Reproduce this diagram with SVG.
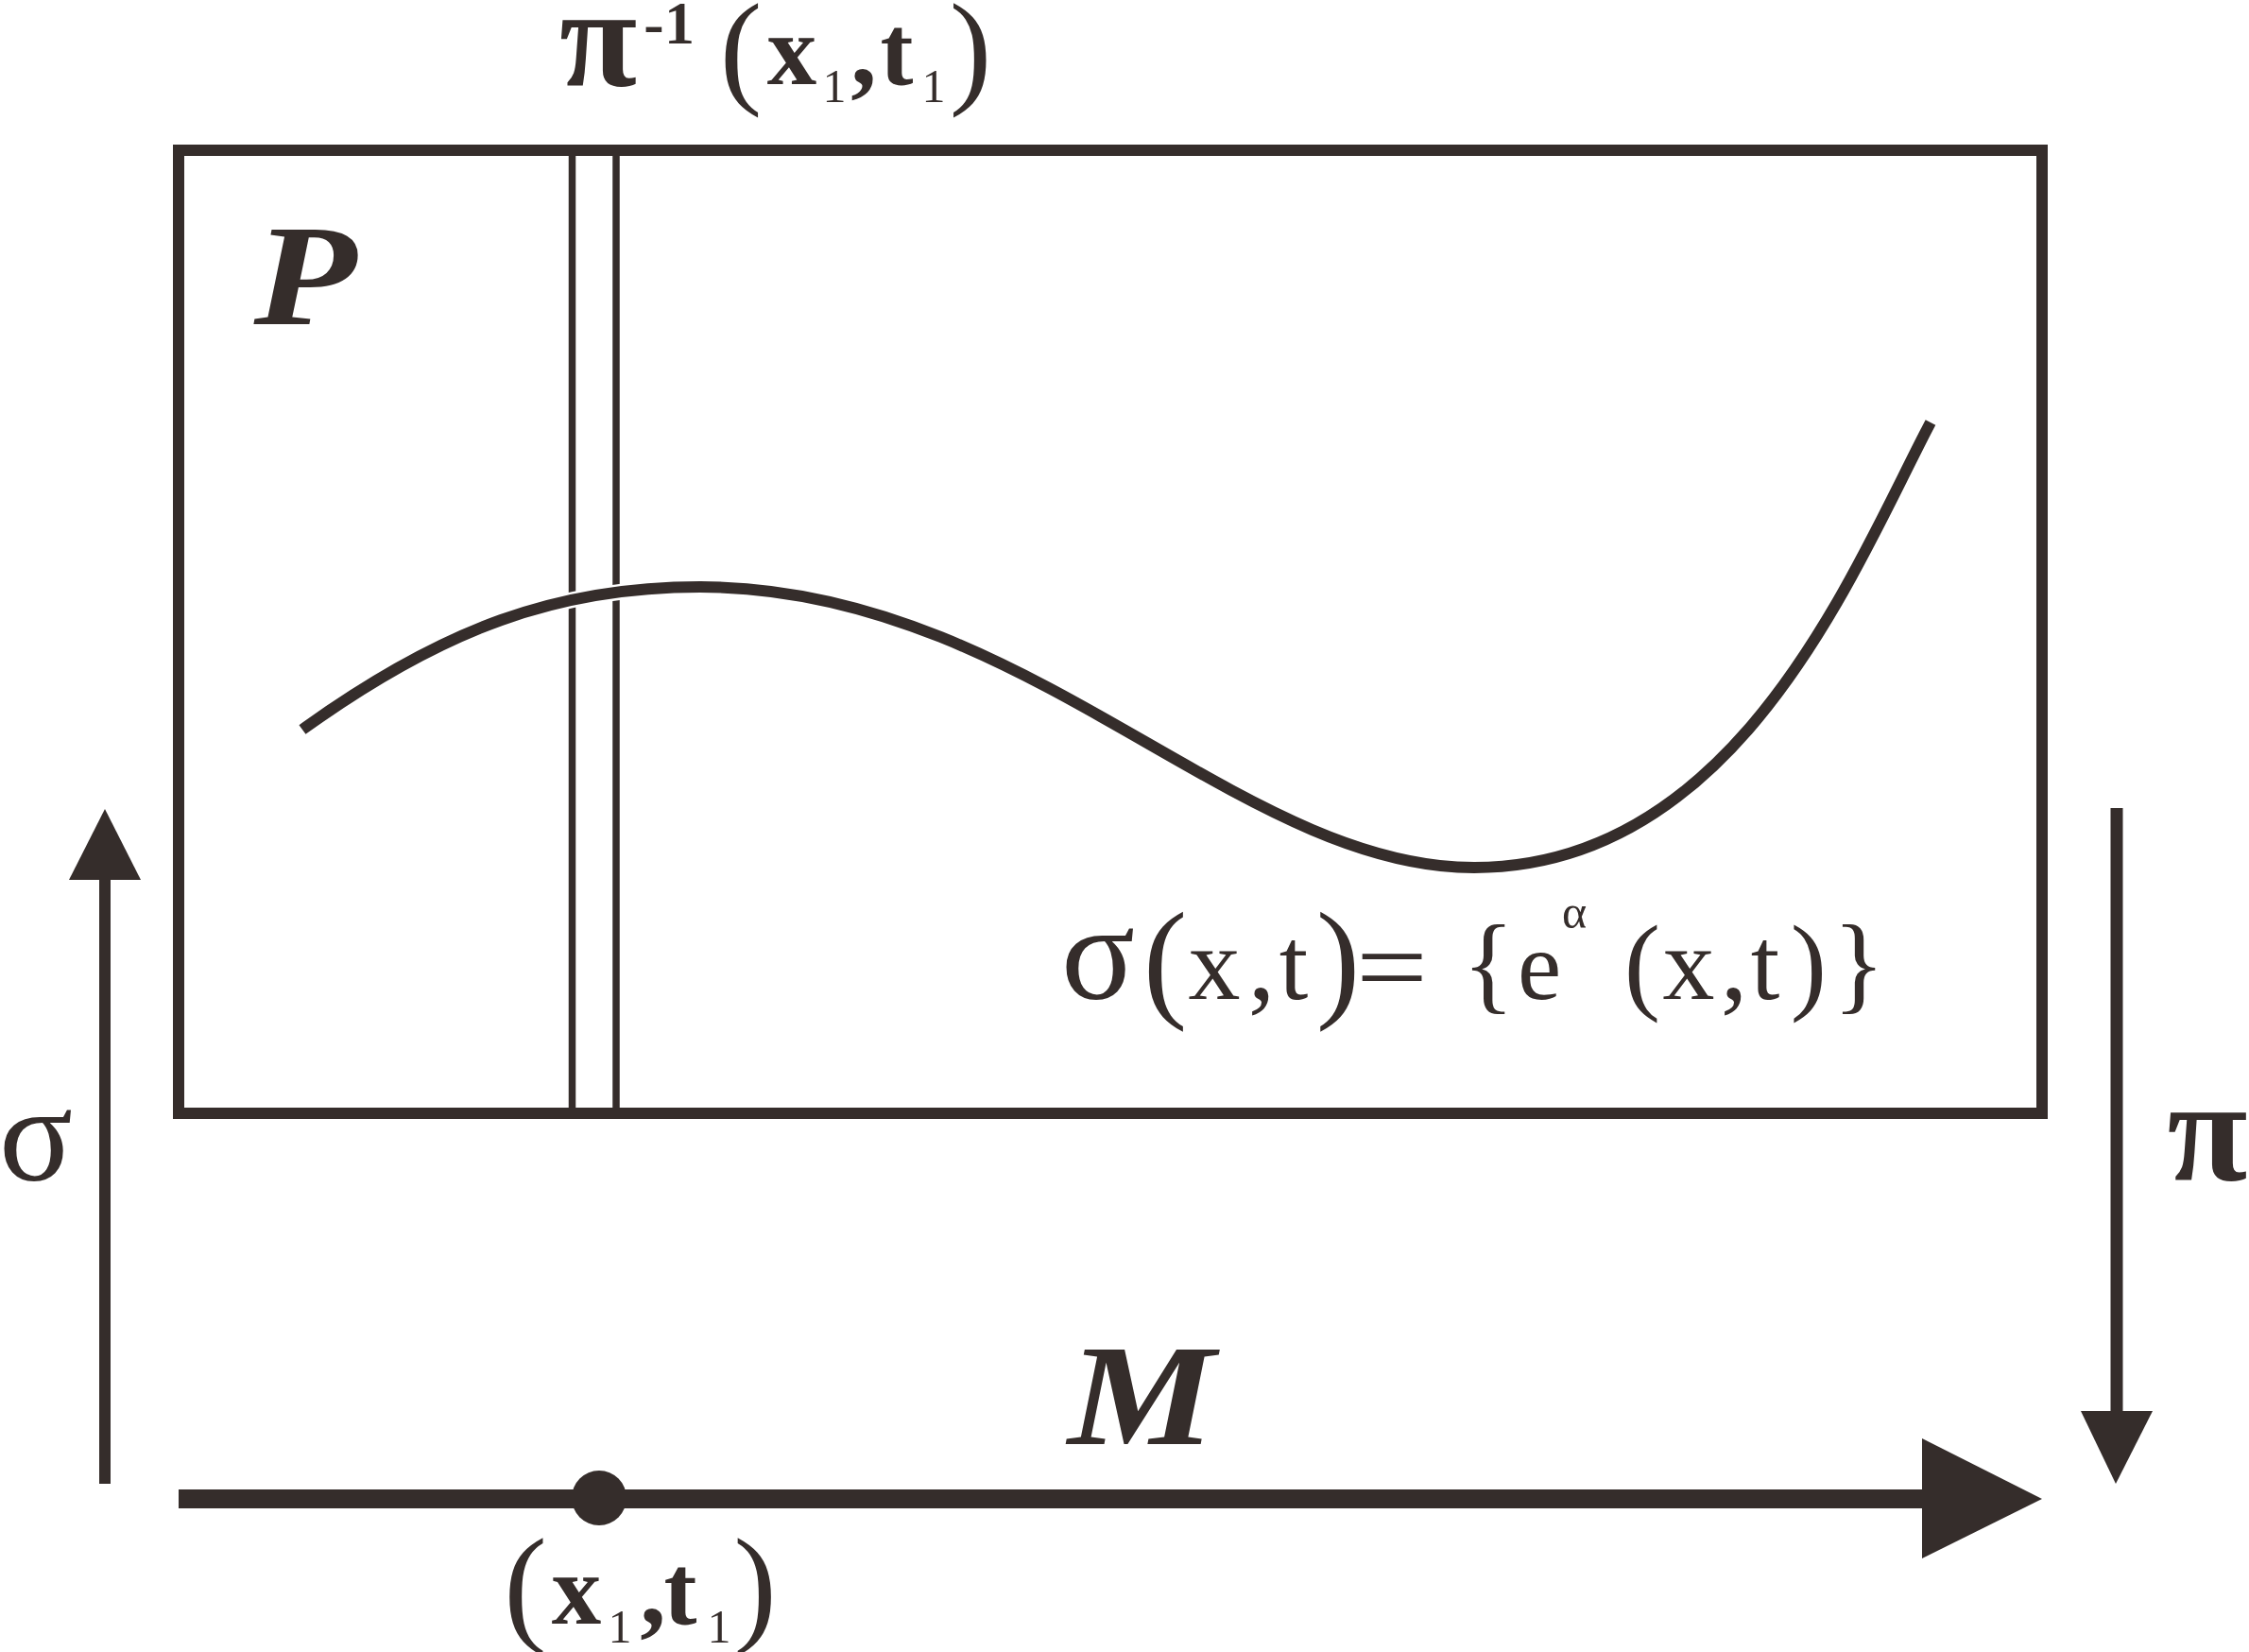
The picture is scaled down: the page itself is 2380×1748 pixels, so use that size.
<svg xmlns="http://www.w3.org/2000/svg" width="2380" height="1748" viewBox="0 0 2380 1748">
<style>
  .ln { stroke: #352d2b; fill: none; }
  .fl { fill: #352d2b; stroke: none; }
  text { fill: #352d2b; font-family: "Liberation Serif", "Times New Roman", serif; text-anchor: middle; }
  .b { font-weight: bold; }
  .bi { font-weight: bold; font-style: italic; }
</style>
<rect width="2380" height="1748" fill="#ffffff"/>

<g id="bundle-P">
  <rect class="ln" x="189" y="159" width="1972" height="1019" stroke-width="12"/>
  <text class="bi" x="323" y="343" font-size="153" textLength="109" lengthAdjust="spacingAndGlyphs">P</text>
</g>

<g id="fiber">
  <line class="ln" x1="605.5" y1="165" x2="605.5" y2="1172" stroke-width="7.5"/>
  <line class="ln" x1="652" y1="165" x2="652" y2="1172" stroke-width="7.5"/>
</g>

<g id="section-curve">
  <path d="M320,772 C470,664 591,621 741,621 C1085,621 1308,918 1560,918 C1840,918 1963,599 2043,447" fill="none" stroke="#ffffff" stroke-width="17"/>
  <path class="ln" d="M320,772 C470,664 591,621 741,621 C1085,621 1308,918 1560,918 C1840,918 1963,599 2043,447" stroke-width="12"/>
</g>

<g id="label-fiber">
  <text class="b" x="633" y="91" font-size="150">π</text>
  <text class="b" x="692" y="46" font-size="64">-</text>
  <text class="b" x="719" y="46" font-size="64">1</text>
  <text x="784" y="96" font-size="134">(</text>
  <text class="b" x="838" y="89" font-size="105">x</text>
  <text x="883" y="108" font-size="50">1</text>
  <text class="b" x="914" y="89" font-size="110">,</text>
  <text class="b" x="949" y="89" font-size="105">t</text>
  <text x="988" y="108" font-size="50">1</text>
  <text x="1027" y="96" font-size="134">)</text>
</g>

<g id="label-section">
  <text x="1162" y="1057" font-size="145">σ</text>
  <text x="1233" y="1062" font-size="140">(</text>
  <text x="1285" y="1057" font-size="110">x</text>
  <text x="1335" y="1057" font-size="115">,</text>
  <text x="1369" y="1057" font-size="110">t</text>
  <text x="1416" y="1062" font-size="140">)</text>
  <text x="1473" y="1062" font-size="115" textLength="76" lengthAdjust="spacingAndGlyphs">=</text>
  <text x="1575" y="1058" font-size="115">{</text>
  <text x="1629" y="1057" font-size="104">e</text>
  <text x="1666" y="982" font-size="50">α</text>
  <text x="1738" y="1058" font-size="115">(</text>
  <text x="1787" y="1057" font-size="110">x</text>
  <text x="1835" y="1057" font-size="115">,</text>
  <text x="1868" y="1057" font-size="110">t</text>
  <text x="1914" y="1058" font-size="115">)</text>
  <text x="1967" y="1058" font-size="115">}</text>
</g>

<g id="base-M">
  <text class="bi" x="1208" y="1528" font-size="153" textLength="156" lengthAdjust="spacingAndGlyphs">M</text>
</g>

<g id="point">
  <circle class="fl" cx="634" cy="1585" r="29"/>
  <text x="556" y="1723" font-size="137">(</text>
  <text class="b" x="610" y="1718" font-size="105">x</text>
  <text x="656" y="1738" font-size="50">1</text>
  <text class="b" x="691" y="1718" font-size="110">,</text>
  <text class="b" x="720" y="1718" font-size="105">t</text>
  <text x="761" y="1738" font-size="50">1</text>
  <text x="799" y="1723" font-size="137">)</text>
</g>

<g id="connectors">
  <g id="sigma-arrow">
    <line class="ln" x1="111" y1="925" x2="111" y2="1570" stroke-width="12"/>
    <polygon class="fl" points="111,856 73,931 149,931"/>
    <text x="38" y="1249" font-size="145">σ</text>
  </g>
  <g id="pi-arrow">
    <line class="ln" x1="2240" y1="855" x2="2240" y2="1500" stroke-width="13"/>
    <polygon class="fl" points="2202,1493 2278,1493 2239,1570"/>
    <text class="b" x="2336" y="1248" font-size="155">π</text>
  </g>
  <g id="base-axis">
    <line class="ln" x1="189" y1="1586" x2="2040" y2="1586" stroke-width="20"/>
    <polygon class="fl" points="2034,1522 2034,1649 2161,1586"/>
  </g>
</g>
</svg>
